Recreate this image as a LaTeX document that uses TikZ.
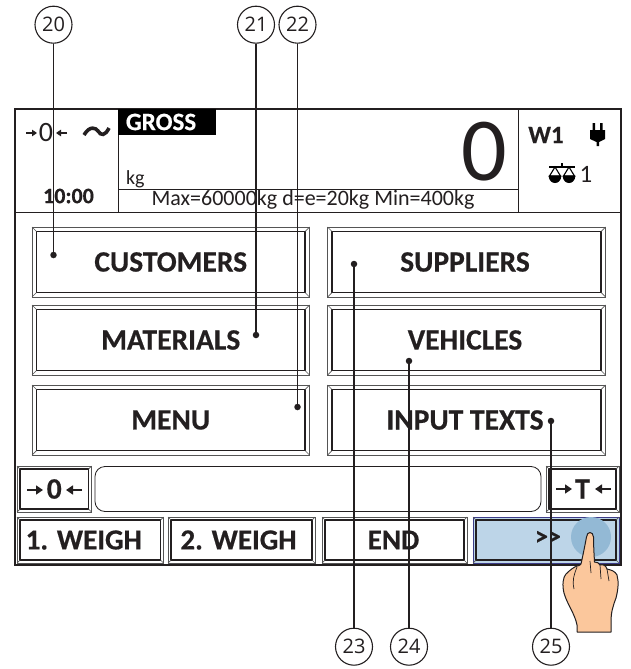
\documentclass[tikz,border=0pt]{standalone}
\usepackage{fontspec}
\setmainfont{Carlito}[BoldFeatures={FakeBold=0.5}]
\newfontfamily\numfont{Open Sans}
\usetikzlibrary{calc,arrows.meta}
\newcommand{\fs}[1]{\fontsize{#1}{#1}\selectfont}
\definecolor{ink}{HTML}{231F20}
\definecolor{edge}{HTML}{555555}
\definecolor{btnblue}{HTML}{BDD5E8}
\definecolor{touch}{HTML}{93B9D5}
\definecolor{skin}{HTML}{FBC79C}
\tikzset{
  btnbox/.style={draw=edge,line width=1pt,inner sep=0pt,outer sep=0pt,text=ink},
  big/.style={font=\fs{29.5}\bfseries},
  low/.style={font=\fs{29}\bfseries},
  callout/.style={circle,draw=ink,line width=1.1pt,minimum size=37pt,inner sep=0pt,fill=white,text=ink,font=\numfont\fs{20}},
  tipdot/.style={circle,fill=ink,minimum size=6.5pt,inner sep=0pt},
  leader/.style={draw=ink,line width=1.2pt},
  plain/.style={inner sep=0pt,outer sep=0pt,text=ink},
  sarrow/.style={draw=ink,line width=1.5pt,-{Triangle[length=7pt,width=9pt]}},
  harrow/.style={draw=ink,line width=1.1pt,-{Triangle[length=5pt,width=6.5pt]}},
}
\newcommand{\btn}[8][]{%
  \pgfmathsetmacro{\btnW}{#5-#3}\pgfmathsetmacro{\btnH}{#6-#4}%
  \node[btnbox,#1,minimum width=\btnW pt,minimum height=\btnH pt] (#2) at ({(#3+#5)/2},{(#4+#6)/2}) {#8};
  \draw[ink,line width=1.3pt] ($(#2.north west)+(#7,#7)$) rectangle ($(#2.south east)+(-#7,-#7)$);
  \draw[edge,line width=.7pt] (#2.north west) -- ++(#7,#7) (#2.north east) -- ++(-#7,#7)
     (#2.south west) -- ++(#7,-#7) (#2.south east) -- ++(-#7,-#7);
}
\begin{document}
\begin{tikzpicture}[x=1pt,y=-1pt]
\useasboundingbox (0,0) rectangle (630,669);
\fill[white] (0,0) rectangle (630,669);
% frame
\draw[ink,line width=1.8pt] (15,109) rectangle (621,565);
\draw[ink,line width=.9pt] (15,212) -- (621,212);
\draw[ink,line width=.9pt] (118,109) -- (118,212) (518,109) -- (518,212) (118,189) -- (518,189);
\fill[black] (118,109) rectangle (216,135);
% header
\node[plain,text=white,font=\fs{25}\bfseries] (gross) at (161,122) {GROSS};
\node[plain,font=\fs{28}] (zero) at (46,133) {0};
\draw[harrow] (26,133) -- (37,133);
\draw[harrow] (67,133) -- (56,133);
\draw[ink,line width=3.6pt] (84,135) .. controls (90,125) and (96,128) .. (98,131) .. controls (101,136) and (105,136) .. (109,128);
\node[plain,font=\fs{22}\bfseries] (clock) at (68.5,196) {10:00};
\node[plain,font=\fs{20},anchor=base west] (unit) at (126,184) {kg};
\node[plain,font=\fs{22}] (limits) at (313,200) {Max=60000kg d=e=20kg Min=400kg};
\node[plain,font=\fs{90}] (weight) at (484,152) {0};
\node[plain,font=\fs{25}\bfseries] (scale) at (546,135) {W1};
\node[plain,font=\fs{25}] (scalenum) at (586,174) {1};
% plug
\fill[black] (592.5,123) rectangle (595,131) (600,123) rectangle (602.5,131);
\fill[black] (590,130) -- (605,130) -- (605,139) -- (599,142) -- (599,146) -- (596.5,146) -- (596.5,142) -- (590,139) -- cycle;
% scale icon
\draw[black,line width=1.1pt] (549,167) -- (575,167) (562,163) -- (562,167);
\draw[black,line width=1.1pt] (555,167) -- (549.5,176) -- (560.5,176) -- cycle (569,167) -- (563.5,176) -- (574.5,176) -- cycle;
\fill[black] (548.5,175.5) -- (561.5,175.5) .. controls (561,181) and (558,183) .. (555,183) .. controls (552,183) and (549,181) .. (548.5,175.5) -- cycle;
\fill[black] (562.5,175.5) -- (575.5,175.5) .. controls (575,181) and (572,183) .. (569,183) .. controls (566,183) and (563,181) .. (562.5,175.5) -- cycle;
% main buttons
\btn[big]{customers}{32}{227}{309.5}{297}{4.5}{CUSTOMERS}
\btn[big]{materials}{32}{305}{309.5}{375}{4.5}{MATERIALS}
\btn[big]{menu}{32}{385}{309.5}{455}{4.5}{MENU}
\btn[big]{suppliers}{327.5}{227}{605.5}{297}{4.5}{SUPPLIERS\kern3pt}
\btn[big]{vehicles}{327.5}{305}{605.5}{375}{4.5}{VEHICLES\kern3pt}
\btn[big]{inputs}{327.5}{385}{605.5}{455}{4.5}{INPUT TEXTS\kern3pt}
% status row
\btn[big]{zerokey}{17}{466}{91.5}{512}{3}{0}
\draw[sarrow] (27,490) -- (43,490);
\draw[sarrow] (82,490) -- (66,490);
\draw[ink,line width=.8pt,rounded corners=10pt] (95,466.5) rectangle (541,511.5);
\btn[big]{tarekey}{546}{466}{619}{512}{3}{T}
\draw[sarrow] (556,489) -- (572,489);
\draw[sarrow] (611,489) -- (595,489);
% bottom row
\btn[low]{weighone}{17}{517}{163.5}{563}{3}{1. WEIGH\kern13pt}
\btn[low]{weightwo}{168}{517}{315}{563}{3}{2. WEIGH\kern6pt}
\btn[low]{endkey}{322}{517}{467}{563}{3}{END\kern2pt}
\btn[low,fill=btnblue,draw=edge!70!blue]{morekey}{473}{517}{619}{563}{3}{}
\fill[touch] (591,537) circle (20);
\node[plain,font=\fs{26}\bfseries] (more) at (548,538) {{>}{>}};
% hand
\draw[ink,line width=1pt,fill=skin,line join=round]
  (586.5,537) .. controls (587,531) and (593,531) .. (593.5,537)
  .. controls (593.5,545) and (594,553) .. (594.5,562)
  .. controls (597,562) and (599,563) .. (600,565)
  .. controls (604,564) and (606,566) .. (607,569)
  .. controls (611,570) and (615,571) .. (617,575)
  .. controls (619,582) and (618,590) .. (616,598)
  .. controls (613,606) and (611,612) .. (611,622)
  -- (611,632) -- (577,632) -- (577,625)
  .. controls (575,614) and (567,604) .. (564,593)
  .. controls (562,585) and (563,577) .. (566,574)
  .. controls (570,570) and (574,567) .. (577,566)
  .. controls (579,566) and (580,565) .. (581,564)
  .. controls (583,555) and (585,545) .. (586.5,537) -- cycle;
\draw[ink,line width=.7pt] (577,567) .. controls (574,575) and (572,580) .. (574,589);
\draw[ink,line width=.7pt] (590,561) -- (591,573) (600,565) -- (601,579) (607,569) -- (609,581);
% callouts
\node[callout] (c20) at (53.5,24.7) {20};
\node[callout] (c21) at (256,24.7) {21};
\node[callout] (c22) at (297.5,24.7) {22};
\node[callout] (c23) at (354,646.7) {23};
\node[callout] (c24) at (409,646.7) {24};
\node[callout] (c25) at (551,646.7) {25};
\node[tipdot] (d20) at (53.5,255) {};
\node[tipdot] (d21) at (256,335) {};
\node[tipdot] (d22) at (297.5,407) {};
\node[tipdot] (d23) at (354,264) {};
\node[tipdot] (d24) at (409,361) {};
\node[tipdot] (d25) at (551,421) {};
\foreach \n in {20,...,25} {\draw[leader] (c\n) -- (d\n);}
\end{tikzpicture}
\end{document}
